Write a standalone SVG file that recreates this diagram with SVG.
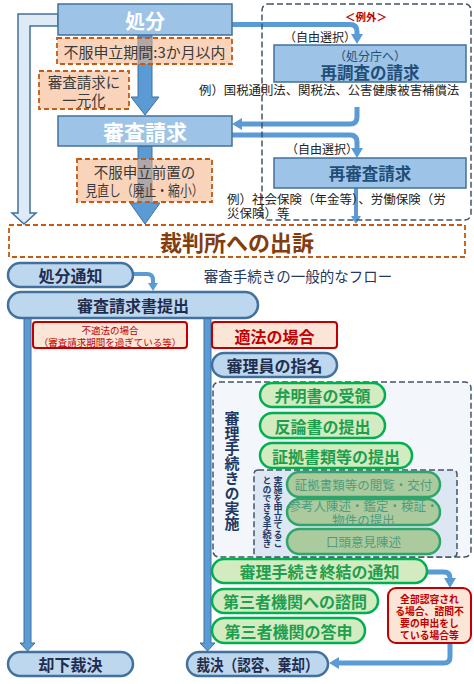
<svg xmlns="http://www.w3.org/2000/svg" width="474" height="684" viewBox="0 0 474 684">
<defs>
<marker id="ah" viewBox="0 0 10 12" refX="0" refY="6" markerWidth="10" markerHeight="12" markerUnits="userSpaceOnUse" orient="auto"><path d="M0,0 L10,6 L0,12 z" fill="#5B9BD5"/></marker>
<marker id="ahs" viewBox="0 0 8 10" refX="0" refY="5" markerWidth="8" markerHeight="10" markerUnits="userSpaceOnUse" orient="auto"><path d="M0,0 L8,5 L0,10 z" fill="#5B9BD5"/></marker>
<style>
text{font-family:"Noto Sans CJK JP","Noto Sans CJK SC",sans-serif}
.c{text-anchor:middle;dominant-baseline:central}
.b{font-weight:700}
.box{fill:#9DC3E6;stroke:#41719C;stroke-width:1.5}
.ob{fill:#F4B183;fill-opacity:.55;stroke:#C55A11;stroke-width:1.8;stroke-dasharray:5 3}
.ot{fill:#3A3A3A;font-size:14.5px}
.conn{fill:none;stroke:#5B9BD5;stroke-width:5}
.conns{fill:none;stroke:#5B9BD5;stroke-width:4}
.big{fill:#5B9BD5;stroke:#41719C;stroke-width:1}
.pill{fill:#BDD7EE;stroke:#41719C;stroke-width:2.5}
.pt{fill:#1F2D4F;font-weight:700;font-size:16px}
.gp{fill:#D3EBC0;stroke:#00B050;stroke-width:2.5}
.gt{fill:#1E9E4E;font-weight:700;font-size:16px}
.sp{fill:#ABCB9F;stroke:#2EA56A;stroke-width:2.5}
.st{fill:#4F9C7C;font-size:12.5px}
.rb{fill:#FBE5D6;stroke:#C00000;stroke-width:2}
.rt{fill:#C00000}
.dash{stroke:#44546A;stroke-width:1.5;stroke-dasharray:6 3}
.bt{fill:#1F4E79}
.vt{writing-mode:vertical-rl}
</style>
</defs>

<g id="connectors">
  <polygon id="hollow" points="58,14 18,14 18,213 12,213 24,224 36,213 30,213 30,26 58,26" fill="#DEEBF7" stroke="#41719C" stroke-width="1.5"/>
  <polygon class="big" points="138,35 152,35 152,97 159,97 145,115 131,97 138,97"/>
  <polygon class="big" points="138,146 152,146 152,203 160,203 145,224 130,203 138,203"/>
  <path class="conn" d="M232,24.5 H350 Q357,24.5 357,31.5 V34" marker-end="url(#ah)"/>
  <path class="conn" d="M357,107 V117 Q357,124 350,124 H242" marker-end="url(#ah)"/>
  <path class="conn" d="M232,135 H350 Q357,135 357,142 V148" marker-end="url(#ah)"/>
  <path class="conns" d="M356,188 V216" marker-end="url(#ahs)"/>
  <path class="conns" d="M133,274 H147 Q153,274 153,280 V283" marker-end="url(#ahs)"/>
  <polygon class="big" points="24,318 31,318 31,643 35,643 27.5,651 20,643 24,643"/>
  <polygon class="big" points="204,318 211,318 211,643 215,643 207.5,651 200,643 204,643"/>
  <path class="conn" d="M427,572 H444 Q450,572 450,578" marker-end="url(#ah)"/>
  <path class="conn" d="M450,643 V657 Q450,663 444,663 H339" marker-end="url(#ah)"/>
</g>

<g id="exception">
  <rect x="262" y="4" width="209" height="216" rx="6" fill="none" class="dash"/>
  <text class="c b rt" x="366" y="16" font-size="10.5">＜例外＞</text>
  <text class="c" x="320" y="36" font-size="12" fill="#222">（自由選択）</text>
  <text class="c" x="322" y="148" font-size="12" fill="#222">（自由選択）</text>
  <text x="199" y="95" font-size="12.4" fill="#222">例）国税通則法、関税法、公害健康被害補償法</text>
  <text x="227" y="204" font-size="12.5" fill="#222">例）社会保険（年金等）、労働保険（労</text>
  <text x="227" y="218" font-size="12.5" fill="#222">災保険）等</text>
</g>

<g id="shobun">
  <rect class="box" x="58" y="4" width="174" height="31"/>
  <text class="c b" x="145" y="20" font-size="20" fill="#FFFFFF">処分</text>
</g>
<g id="kikan">
  <rect class="ob" x="57" y="38" width="175" height="26"/>
  <text class="c ot" x="144.5" y="51" textLength="162" lengthAdjust="spacingAndGlyphs">不服申立期間:3か月以内</text>
</g>
<g id="ichigenka">
  <rect class="ob" x="39" y="71" width="90" height="38"/>
  <text class="c ot" x="84" y="81.5" font-size="14.5">審査請求に</text>
  <text class="c ot" x="84" y="99" font-size="14.5">一元化</text>
</g>
<g id="shinsa">
  <rect class="box" x="58" y="116" width="174" height="30"/>
  <text class="c b" x="145" y="131" font-size="21" fill="#FFFFFF">審査請求</text>
</g>
<g id="zenchi">
  <rect class="ob" x="77" y="159" width="135" height="43"/>
  <text class="c ot" x="144.5" y="171.5" font-size="14">不服申立前置の</text>
  <text class="c ot" x="144.5" y="189" font-size="13.5" textLength="118" lengthAdjust="spacingAndGlyphs">見直し（廃止・縮小）</text>
</g>
<g id="saichousa">
  <rect class="box" x="274" y="45" width="192" height="37"/>
  <text class="c bt" x="370" y="55" font-size="12">（処分庁へ）</text>
  <text class="c b bt" x="370" y="72" font-size="16.5">再調査の請求</text>
</g>
<g id="saishinsa">
  <rect class="box" x="274" y="158" width="192" height="30"/>
  <text class="c b bt" x="370" y="173" font-size="16.5">再審査請求</text>
</g>
<g id="saibansho">
  <rect x="9" y="225" width="456" height="32" fill="#FFFFFF" stroke="#C55A11" stroke-width="1.8" stroke-dasharray="5 3"/>
  <text class="c b" x="237" y="241" font-size="22" fill="#843C0C">裁判所への出訴</text>
</g>

<g id="title">
  <text class="c" x="298" y="275" font-size="14.5" fill="#1F3864">審査手続きの一般的なフロー</text>
</g>
<g id="tsuchi">
  <rect class="pill" x="8" y="263" width="125" height="24" rx="12"/>
  <text class="c pt" x="70.5" y="275">処分通知</text>
</g>
<g id="teishutsu">
  <rect class="pill" x="8" y="292" width="250" height="26" rx="13"/>
  <text class="c pt" x="133" y="305">審査請求書提出</text>
</g>
<g id="futekiho">
  <rect class="rb" x="33" y="322" width="154" height="26" rx="3"/>
  <text class="c rt" x="110" y="329.5" font-size="9.5">不適法の場合</text>
  <text class="c rt" x="110" y="341.5" font-size="9.5">（審査請求期間を過ぎている等）</text>
</g>
<g id="tekiho">
  <rect class="rb" x="212" y="322" width="125" height="26" rx="3"/>
  <text class="c b rt" x="274.5" y="335.5" font-size="16">適法の場合</text>
</g>
<g id="shimei">
  <rect class="pill" x="212" y="353" width="125" height="24" rx="12"/>
  <text class="c pt" x="274.5" y="365">審理員の指名</text>
</g>
<g id="jisshi">
  <rect x="213" y="382" width="258" height="175" rx="6" fill="#F3F7FB" class="dash"/>
  <text class="b vt" x="232" y="411" font-size="15" fill="#1F3864">審理手続きの実施</text>
</g>
<g id="benmei">
  <rect class="gp" x="260" y="383" width="125" height="24" rx="12"/>
  <text class="c gt" x="322.5" y="395">弁明書の受領</text>
</g>
<g id="hanron">
  <rect class="gp" x="260" y="413" width="125" height="25" rx="12.5"/>
  <text class="c gt" x="322.5" y="425.5">反論書の提出</text>
</g>
<g id="shoko">
  <rect class="gp" x="260" y="443" width="152" height="25" rx="12.5"/>
  <text class="c gt" x="336" y="455.5">証拠書類等の提出</text>
</g>
<g id="moushitate">
  <rect x="254" y="470" width="203" height="87" rx="4" fill="#DCE7F3" class="dash"/>
  <text class="b vt" x="278" y="476" font-size="9" fill="#1F3864">実施を申立てるこ</text>
  <text class="b vt" x="267" y="476" font-size="9" fill="#1F3864">とのできる手続き</text>
</g>
<g id="etsuran">
  <rect class="sp" x="287" y="472" width="153" height="25" rx="12.5"/>
  <text class="c st" x="363.5" y="484.5">証拠書類等の閲覧・交付</text>
</g>
<g id="sankounin">
  <rect class="sp" x="287" y="499" width="153" height="26" rx="13"/>
  <text class="c st" x="363.5" y="505.5" font-size="12">参考人陳述・鑑定・検証・</text>
  <text class="c st" x="363.5" y="519" font-size="12">物件の提出</text>
</g>
<g id="koutou">
  <rect class="sp" x="287" y="529" width="153" height="25" rx="12.5"/>
  <text class="c st" x="363.5" y="541.5">口頭意見陳述</text>
</g>
<g id="shuketsu">
  <rect class="gp" x="212" y="559" width="215" height="24" rx="12"/>
  <text class="c gt" x="319.5" y="571">審理手続き終結の通知</text>
</g>
<g id="shimon">
  <rect class="gp" x="212" y="589" width="166" height="24" rx="12"/>
  <text class="c gt" x="295" y="601">第三者機関への諮問</text>
</g>
<g id="toushin">
  <rect class="gp" x="212" y="618" width="153" height="25" rx="12.5"/>
  <text class="c gt" x="288.5" y="630.5">第三者機関の答申</text>
</g>
<g id="zenbu">
  <rect class="rb" x="388" y="588" width="83" height="55" rx="8"/>
  <text class="c b rt" x="429.5" y="599" font-size="9.8">全部認容され</text>
  <text class="c b rt" x="429.5" y="611" font-size="9.8">る場合、諮問不</text>
  <text class="c b rt" x="429.5" y="623" font-size="9.8">要の申出をし</text>
  <text class="c b rt" x="429.5" y="635" font-size="9.8">ている場合等</text>
</g>
<g id="kyakka">
  <rect class="pill" x="8" y="652" width="125" height="24" rx="12"/>
  <text class="c pt" x="70.5" y="664">却下裁決</text>
</g>
<g id="saiketsu">
  <rect class="pill" x="187" y="652" width="141" height="24" rx="12"/>
  <text class="c pt" x="257.5" y="664" textLength="122" lengthAdjust="spacingAndGlyphs">裁決（認容、棄却）</text>
</g>
</svg>
